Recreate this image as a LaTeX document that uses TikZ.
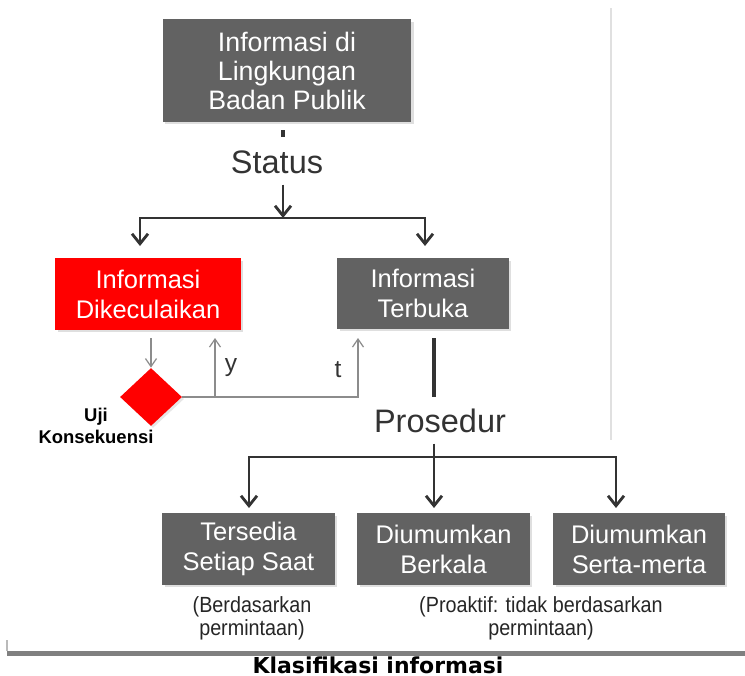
\documentclass[tikz,border=0pt]{standalone}
\usepackage{fontspec}
\setmainfont{Liberation Sans}
\newfontfamily\narrowfont[FakeStretch=0.9]{Liberation Sans}
\newfontfamily\captionfont{DejaVu Sans}
\usetikzlibrary{arrows.meta,shapes.geometric,shadows}

\definecolor{boxgray}{RGB}{98,98,98}
\definecolor{boxred}{RGB}{255,0,0}
\definecolor{linegray}{RGB}{51,51,51}
\definecolor{thingray}{RGB}{140,140,140}

\tikzset{
  infobox/.style={fill=boxgray, text=white, align=center, inner sep=0pt,
    font=\fontsize{14.5}{17}\selectfont,
    drop shadow={shadow xshift=0.05cm, shadow yshift=-0.05cm, opacity=0.25}},
  conn/.style={draw=linegray, line width=1.6pt},
  arr/.style={conn, -{Straight Barb[length=0.2cm,width=0.32cm]}},
  thinarr/.style={draw=thingray, line width=0.7pt, -{Straight Barb[length=0.16cm,width=0.22cm]}},
  steplabel/.style={text=linegray, font=\fontsize{18.5}{20}\selectfont},
  smalltext/.style={text=linegray, font=\fontsize{14}{16}\selectfont},
  note/.style={text=black!85, align=center, font=\narrowfont\fontsize{12.5}{13}\selectfont},
}

\begin{document}
\begin{tikzpicture}[x=0.02cm, y=-0.02cm]
  \useasboundingbox (0,0) rectangle (745,676);
  \draw[black!12, line width=0.6pt] (611,8) -- (611,440);

  \coordinate (split) at (283,218);
  \coordinate (lefttip) at (140,246);
  \coordinate (righttip) at (425,246);

  \node[infobox, font=\fontsize{15.2}{16.5}\selectfont, minimum width=4.98cm, minimum height=2.06cm] (lingkungan) at (287,70.5) {Informasi di\\Lingkungan\\Badan Publik};
  \node[steplabel] (status) at (277,162) {Status};
  \draw[conn, line width=2pt, shorten <=0.16cm, shorten >=0.14cm] (lingkungan.south -| split) -- (status.north -| split);
  \draw[arr, shorten <=0.1cm] (status.south -| split) -- (split);
  \draw[arr] (split) -| (lefttip);
  \draw[arr] (split) -| (righttip);

  \node[infobox, fill=boxred, minimum width=3.72cm, minimum height=1.44cm] (dikecualikan) at (148,294) {Informasi\\Dikeculaikan};
  \node[infobox, minimum width=3.44cm, minimum height=1.42cm] (terbuka) at (423,293.5) {Informasi\\Terbuka};

  % uji konsekuensi
  \node[diamond, fill=boxred, inner sep=0pt, minimum width=1.24cm, minimum height=1.16cm,
    drop shadow={shadow xshift=0.04cm, shadow yshift=-0.04cm, opacity=0.2}] (uji) at (151,397) {};
  \node[font=\bfseries\fontsize{10.5}{12.5}\selectfont, align=center] (ujilabel) at (96,426) {Uji\\Konsekuensi};
  \coordinate (yup) at (215,338);
  \coordinate (tup) at (358,338);
  \draw[thinarr, shorten <=0.16cm] (dikecualikan.south -| uji.north) -- (uji.north);
  \draw[thinarr] (uji.east) -| (tup);
  \draw[thinarr] (uji.east -| yup) -- (yup);
  \node[smalltext] (ylabel) at (231,368) {y};
  \node[smalltext] (tlabel) at (338,370) {t};

  % prosedur
  \node[steplabel] (prosedur) at (440,421) {Prosedur};
  \coordinate (split2) at (434,457);
  \coordinate (tip1) at (249,508);
  \coordinate (tip2) at (434,508);
  \coordinate (tip3) at (616,508);
  \draw[conn, line width=2.2pt, shorten <=0.18cm, shorten >=0.12cm] (terbuka.south -| split2) -- (prosedur.north -| split2);
  \draw[conn, shorten <=0.09cm] (prosedur.south -| split2) -- (split2);
  \draw[arr] (split2) -| (tip1);
  \draw[arr] (split2) -- (tip2);
  \draw[arr] (split2) -| (tip3);

  \node[infobox, minimum width=3.46cm, minimum height=1.44cm] (tersedia) at (248.5,549) {Tersedia\\Setiap Saat};
  \node[infobox, minimum width=3.46cm, minimum height=1.44cm] (berkala) at (443.5,549) {Diumumkan\\Berkala};
  \node[infobox, minimum width=3.44cm, minimum height=1.44cm] (sertamerta) at (639,549) {Diumumkan\\Serta-merta};

  \node[note] (permintaan) at (252,618) {(Berdasarkan\\permintaan)};
  \node[note] (proaktif) at (541,618) {(Proaktif: tidak berdasarkan\\permintaan)};

  \draw[thingray!60, line width=0.6pt] (7,640) -- (7,651);
  \draw[black!50, line width=0.1cm] (7,653) -- (745,653);
  \node[font=\captionfont\bfseries\fontsize{12.5}{14}\selectfont, inner sep=1pt] (caption) at (378,665) {Klasifikasi informasi};
\end{tikzpicture}
\end{document}
